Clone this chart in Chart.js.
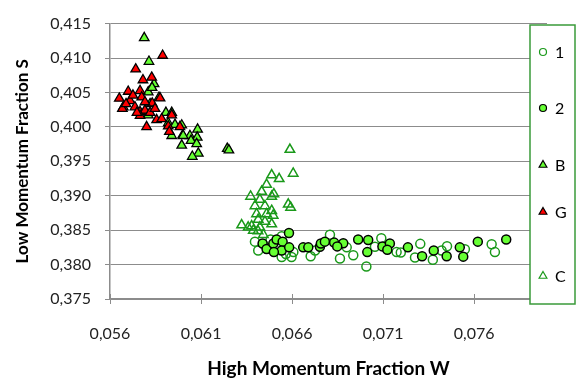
<!DOCTYPE html>
<html>
<head>
<meta charset="utf-8">
<script src="https://cdn.jsdelivr.net/npm/chart.js@4/dist/chart.umd.min.js"></script>
<style>
  html, body { margin: 0; padding: 0; background: #fff; }
  canvas { display: block; }
</style>
</head>
<body>
<canvas id="chart" width="578" height="385"></canvas>
<script>
// tick values
const xTicks = [0.056, 0.061, 0.066, 0.071, 0.076];
const yTicks = [0.375, 0.380, 0.385, 0.390, 0.395, 0.400, 0.405, 0.410, 0.415];

// series 1 (open circles)
const s1X = [0.06396, 0.06482, 0.06543, 0.06597, 0.06702, 0.06808, 0.06863, 0.06936, 0.06900, 0.07008,
             0.07055, 0.06726, 0.06414, 0.06607, 0.07090, 0.07174, 0.07197, 0.07304, 0.07275, 0.07373,
             0.07451, 0.07421, 0.07549, 0.07696, 0.07714, 0.06543, 0.06566];
const s1Y = [0.38333, 0.38365, 0.38412, 0.38111, 0.38121, 0.38435, 0.38088, 0.38135, 0.38250, 0.37972,
             0.38260, 0.38204, 0.38204, 0.38181, 0.38382, 0.38181, 0.38176, 0.38301, 0.38104, 0.38069,
             0.38267, 0.38204, 0.38222, 0.38296, 0.38181, 0.38111, 0.38153];

// series 2 (filled circles)
const s2X = [0.06583, 0.06438, 0.06460, 0.06497, 0.06515, 0.06548, 0.06543, 0.06500, 0.06584, 0.06661,
             0.06689, 0.06753, 0.06758, 0.06780, 0.06831, 0.06881, 0.06848, 0.06963, 0.07018, 0.07013,
             0.07096, 0.07137, 0.07123, 0.07236, 0.07314, 0.07378, 0.07449, 0.07521, 0.07540, 0.07620,
             0.07776];
const s2Y = [0.38458, 0.38306, 0.38226, 0.38306, 0.38365, 0.38333, 0.38204, 0.38181, 0.38250, 0.38250,
             0.38250, 0.38260, 0.38306, 0.38333, 0.38319, 0.38310, 0.38264, 0.38365, 0.38357, 0.38181,
             0.38264, 0.38306, 0.38215, 0.38250, 0.38122, 0.38204, 0.38122, 0.38250, 0.38115, 0.38333,
             0.38364];

// series B (green triangles)
const bX = [0.05788, 0.05814, 0.05842, 0.05810, 0.05869, 0.05810, 0.05907, 0.05939, 0.05920, 0.05939,
            0.05957, 0.05994, 0.05999, 0.06039, 0.06081, 0.06079, 0.05994, 0.06045, 0.06076, 0.06085,
            0.06052, 0.06244, 0.06253, 0.06002, 0.05820, 0.05831];
const bY = [0.41292, 0.40949, 0.40625, 0.40504, 0.40426, 0.40171, 0.40208, 0.40208, 0.40056, 0.39871,
            0.40032, 0.40024, 0.39879, 0.39871, 0.39963, 0.39847, 0.39732, 0.39801, 0.39754, 0.39615,
            0.39569, 0.39685, 0.39663, 0.39871, 0.40333, 0.40569];

// series G (red triangles)
const gX = [0.05889, 0.05741, 0.05781, 0.05829, 0.05700, 0.05765, 0.05651, 0.05875, 0.05710, 0.05774,
            0.05832, 0.05673, 0.05668, 0.05737, 0.05765, 0.05792, 0.05820, 0.05765, 0.05801, 0.05856,
            0.05884, 0.05939, 0.05920, 0.05926, 0.05984, 0.05688, 0.05726, 0.05792, 0.05847, 0.05748];
const gY = [0.41037, 0.40838, 0.40681, 0.40718, 0.40514, 0.40524, 0.40413, 0.40417, 0.40379, 0.40431,
            0.40343, 0.40288, 0.40264, 0.40288, 0.40218, 0.40240, 0.40208, 0.40163, 0.40000, 0.40101,
            0.40115, 0.40171, 0.40010, 0.39931, 0.40000, 0.40333, 0.40458, 0.40361, 0.40264, 0.40208];

// series C (open triangles)
const cX = [0.06588, 0.06606, 0.06488, 0.06529, 0.06460, 0.06433, 0.06372, 0.06500, 0.06488, 0.06423,
            0.06579, 0.06592, 0.06451, 0.06396, 0.06488, 0.06405, 0.06460, 0.06496, 0.06414, 0.06323,
            0.06359, 0.06378, 0.06423, 0.06488, 0.06442, 0.06387, 0.06413, 0.06451];
const cY = [0.39671, 0.39324, 0.39301, 0.39246, 0.39162, 0.39060, 0.38990, 0.39024, 0.38990, 0.38944,
            0.38875, 0.38829, 0.38851, 0.38851, 0.38782, 0.38736, 0.38736, 0.38713, 0.38653, 0.38574,
            0.38542, 0.38560, 0.38542, 0.38588, 0.38435, 0.38496, 0.38486, 0.38625];

const GREEN = "#1a991a";
const LIME = "#66ff33";
const GRID = "#8c8c8c";
const FONT = "Lato, 'Open Sans', sans-serif";

function pts(xs, ys) {
    return xs.map(function (x, i) { return { x: x, y: ys[i] }; });
}

function comma(v) {
    return v.toFixed(3).replace(".", ",");
}

// Excel-style legend box drawn over the right end of the plot, plus inward x ticks
const extras = {
    id: "extras",
    afterDraw: function (chart) {
        const ctx = chart.ctx;
        const xs = chart.scales.x;
        const bottom = chart.chartArea.bottom;

        ctx.save();
        ctx.strokeStyle = GRID;
        ctx.lineWidth = 1;
        xTicks.forEach(function (v) {
            const px = Math.round(xs.getPixelForValue(v)) + 0.5;
            ctx.beginPath();
            ctx.moveTo(px, bottom - 5);
            ctx.lineTo(px, bottom);
            ctx.stroke();
        });

        ctx.fillStyle = "#fff";
        ctx.fillRect(530, 25, 45, 279);
        ctx.strokeStyle = "#3a9a3a";
        ctx.lineWidth = 1.5;
        ctx.strokeRect(530, 25, 45, 279);

        const rows = [52, 108, 165, 212, 276];
        ctx.font = "16px " + FONT;
        ctx.textBaseline = "middle";
        chart.data.datasets.forEach(function (ds, i) {
            ctx.fillStyle = ds.pointBackgroundColor;
            ctx.strokeStyle = ds.pointBorderColor;
            ctx.lineWidth = 1.2;
            Chart.helpers.drawPoint(ctx, {
                pointStyle: ds.pointStyle,
                radius: ds.pointStyle === "circle" ? 3.5 : 4.5,
                borderWidth: 1.2,
                rotation: 0
            }, 543, rows[i]);
            ctx.fillStyle = "#000";
            ctx.fillText(ds.label, 555, rows[i] + 1);
        });
        ctx.restore();
    }
};

new Chart(document.getElementById("chart"), {
    type: "scatter",
    data: {
        datasets: [
            {
                label: "1", data: pts(s1X, s1Y), order: 5,
                pointStyle: "circle", pointRadius: 4.5, pointBorderWidth: 1.5,
                pointBackgroundColor: "rgba(255,255,255,0)", pointBorderColor: GREEN
            },
            {
                label: "2", data: pts(s2X, s2Y), order: 4,
                pointStyle: "circle", pointRadius: 4.5, pointBorderWidth: 1.5,
                pointBackgroundColor: LIME, pointBorderColor: "#000"
            },
            {
                label: "B", data: pts(bX, bY), order: 3,
                pointStyle: "triangle", pointRadius: 5.5, pointBorderWidth: 1.3,
                pointBackgroundColor: LIME, pointBorderColor: "#000"
            },
            {
                label: "G", data: pts(gX, gY), order: 2,
                pointStyle: "triangle", pointRadius: 5.5, pointBorderWidth: 1.3,
                pointBackgroundColor: "#ff0000", pointBorderColor: "#000"
            },
            {
                label: "C", data: pts(cX, cY), order: 1,
                pointStyle: "triangle", pointRadius: 5.5, pointBorderWidth: 1.5,
                pointBackgroundColor: "rgba(255,255,255,0)", pointBorderColor: GREEN
            }
        ]
    },
    options: {
        responsive: false,
        animation: false,
        devicePixelRatio: 1,
        layout: { padding: { left: 0, right: 31, top: 11, bottom: 0 } },
        plugins: {
            legend: { display: false },
            tooltip: { enabled: false }
        },
        scales: {
            x: {
                type: "linear",
                min: 0.056,
                max: 0.080,
                afterBuildTicks: function (scale) {
                    scale.ticks = xTicks.map(function (v) { return { value: v }; });
                },
                afterFit: function (scale) { scale.height = 86; },
                grid: { drawOnChartArea: false, color: GRID, tickLength: 5, tickColor: GRID },
                border: { color: GRID, width: 1.5 },
                ticks: {
                    padding: 20,
                    color: "#222",
                    font: { family: FONT, size: 16 },
                    callback: comma
                },
                title: {
                    display: true,
                    text: "High Momentum Fraction W",
                    color: "#000",
                    font: { family: FONT, size: 19, weight: "bold" },
                    padding: { bottom: 5 }
                }
            },
            y: {
                min: 0.375,
                max: 0.415,
                afterBuildTicks: function (scale) {
                    scale.ticks = yTicks.map(function (v) { return { value: v }; });
                },
                afterFit: function (scale) { scale.width = 110; },
                grid: { color: GRID, lineWidth: 1, tickLength: 5, tickColor: GRID },
                border: { color: GRID, width: 1.5 },
                ticks: {
                    padding: 14,
                    color: "#222",
                    font: { family: FONT, size: 16 },
                    callback: comma
                },
                title: {
                    display: true,
                    text: "Low Momentum Fraction S",
                    color: "#000",
                    font: { family: FONT, size: 17, weight: "bold" },
                    padding: { top: 12 }
                }
            }
        }
    },
    plugins: [extras]
});
</script>
</body>
</html>
